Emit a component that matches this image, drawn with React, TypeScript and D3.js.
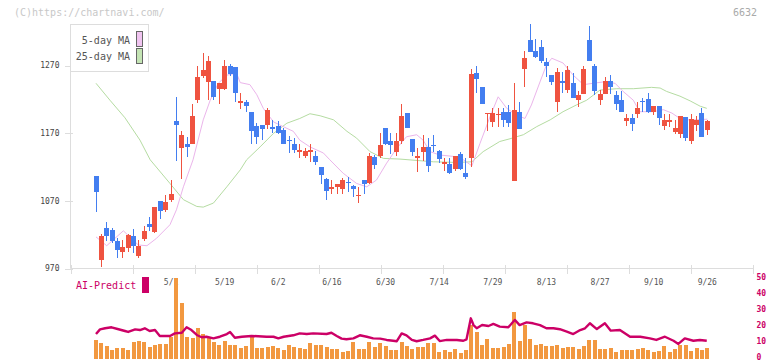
import React from 'react';
import * as d3 from 'd3';

// ---- price data ----
const opens = [1107,983,1030,1027,1011,994,1001,1018,989,1014,1036,1024,1070,1057,1072,1189,1149,1155,1155,1219,1255,1246,1247,1236,1236,1270,1268,1215,1216,1202,1181,1183,1182,1179,1181,1175,1160,1154,1143,1137,1143,1136,1120,1103,1088,1091,1088,1098,1092,1078,1101,1097,1135,1137,1178,1159,1143,1158,1200,1161,1133,1143,1150,1153,1144,1124,1125,1118,1139,1111,1134,1259,1239,1199,1187,1197,1202,1201,1100,1201,1265,1308,1291,1297,1276,1256,1217,1248,1234,1244,1219,1228,1308,1270,1219,1228,1247,1226,1219,1189,1193,1199,1218,1221,1201,1210,1181,1187,1172,1169,1194,1159,1182,1200,1175];
const highs = [1107,1021,1039,1030,1016,1013,1021,1029,1012,1033,1047,1061,1070,1079,1101,1224,1174,1164,1213,1270,1289,1285,1247,1245,1279,1273,1268,1229,1220,1202,1185,1183,1207,1190,1189,1178,1166,1163,1155,1148,1154,1144,1120,1104,1101,1095,1104,1105,1094,1091,1101,1141,1138,1170,1178,1171,1170,1213,1200,1161,1148,1168,1163,1167,1146,1133,1133,1137,1143,1134,1265,1270,1239,1200,1208,1207,1207,1212,1244,1216,1291,1331,1309,1308,1281,1256,1266,1261,1269,1259,1232,1269,1328,1272,1234,1254,1256,1232,1232,1198,1198,1216,1222,1229,1210,1210,1199,1199,1190,1196,1194,1199,1196,1208,1190];
const lows = [1054,973,1011,1008,986,986,995,993,986,1011,1026,1023,1043,1054,1069,1129,1103,1135,1155,1215,1252,1219,1219,1214,1234,1255,1216,1206,1202,1155,1155,1160,1177,1171,1169,1155,1141,1141,1133,1133,1127,1123,1095,1072,1080,1081,1080,1084,1076,1067,1081,1095,1117,1133,1153,1140,1136,1154,1178,1137,1113,1129,1113,1143,1126,1114,1110,1114,1116,1103,1120,1230,1213,1174,1180,1180,1180,1180,1100,1176,1239,1290,1282,1274,1254,1242,1201,1230,1230,1222,1209,1228,1277,1227,1212,1228,1228,1205,1201,1181,1174,1192,1202,1200,1197,1182,1175,1179,1169,1163,1158,1154,1174,1165,1168];
const closes = [1084,1018,1018,1011,997,1002,1020,1004,1004,1025,1032,1061,1056,1068,1081,1183,1168,1150,1196,1254,1264,1277,1224,1245,1270,1257,1229,1218,1211,1173,1164,1177,1205,1176,1171,1155,1158,1146,1145,1144,1146,1127,1109,1085,1091,1095,1101,1096,1088,1079,1095,1136,1123,1153,1154,1153,1158,1196,1178,1143,1137,1150,1122,1152,1132,1127,1112,1137,1118,1106,1258,1250,1213,1200,1200,1199,1190,1185,1205,1176,1282,1290,1283,1277,1269,1246,1261,1245,1264,1223,1227,1265,1277,1232,1228,1247,1239,1213,1201,1193,1184,1207,1216,1202,1210,1193,1190,1190,1178,1196,1163,1191,1190,1165,1188];
const volumes = [183,153,123,83,103,103,83,163,173,163,113,133,143,143,213,803,553,213,203,303,243,213,163,133,173,133,133,103,123,223,103,103,113,123,103,83,133,113,103,93,153,133,133,113,93,93,67,77,163,93,93,163,113,153,123,83,83,165,123,93,113,113,153,153,67,83,63,93,53,83,333,267,133,193,103,103,113,143,463,173,333,193,133,143,123,123,133,103,113,113,93,123,183,183,93,93,103,63,83,83,83,93,103,83,63,73,123,63,93,133,133,73,103,83,103];

// moving averages ([day index, price])
const ma5Idx = [0,2,5.1,7.9,9.5,11.3,13.8,15,16.3,18.1,20,21.3,22.8,24.4,26.2,26.9,28.7,30,31.2,33.1,34.9,36.8,38,39.9,42.4,43.6,46.1,48.6,50.5,52.3,54.2,56.1,57.9,59.8,61,62.3,64.1,66.6,68.5,70.1,71.6,73.5,75,76.6,78.4,80,81.2,82.8,84,85,87.1,89,90.9,92.7,94.6,96.8,98.3,100.2,101.4,103.9,105.8,107.4,108.9,110.2,112.1,114];
const ma5Val = [1017,1004,1026,1005,1004,1015,1035,1057,1091,1131,1190,1219,1244,1256,1259,1245,1242,1227,1207,1187,1180,1173,1160,1150,1141,1131,1111,1096,1091,1101,1126,1148,1165,1168,1160,1143,1138,1136,1131,1122,1155,1195,1224,1207,1197,1192,1212,1246,1271,1281,1274,1256,1242,1244,1246,1244,1232,1219,1202,1202,1205,1200,1192,1190,1190,1191];
const ma25Idx = [0,2.6,5.4,8.2,10.1,13.8,16.3,18.8,20,21.9,24.4,26.9,28.1,30.6,33.1,35.6,38,39.9,41.8,44.3,46.8,48.6,51.1,53.6,56.7,62.9,67.3,70.1,72.2,75.3,77.2,79.7,82.2,84.7,87.1,89.6,91.5,94,97.1,100.2,103.6,105.2,106.4,108.9,110.8,112.7,113.9];
const ma25Val = [1244,1219,1193,1160,1131,1096,1072,1062,1061,1067,1091,1116,1131,1150,1170,1185,1192,1199,1196,1190,1173,1163,1143,1133,1132,1128,1127,1128,1143,1158,1162,1168,1180,1190,1202,1212,1219,1234,1236,1236,1238,1237,1232,1225,1218,1210,1207];

// AI-Predict series ([day index, value on 0-50 scale])
const aiIdx = [0,0.75,1.7,2.9,4.2,5.4,6,7.3,8.2,9.1,10,11,11.9,13.8,14.7,16,16.9,17.8,18.8,19.7,20.6,21.9,23.1,24.4,25,25.9,27.2,29,31.8,33.1,34,35,36.8,38,39.3,40.5,43,43.9,44.9,45.8,46.7,48,49.2,50.5,51.7,53,54.2,55.4,56.1,57,57.9,58.9,59.8,61,62.3,63.2,64.1,65.4,67.3,68.5,69.1,69.9,70.4,71,72,73.2,74.1,75.3,76.9,77.8,78.1,79,80.3,81.5,82.8,84,85.3,86.5,87.8,89,90.3,91.2,92.1,93.4,94.9,96,97.7,99.6,101.5,103.3,104.5,106.1,107.7,108.6,109.8,111.4,112.6,113.9];
const aiVal = [14.8,17.7,18.4,19.0,17.8,16.7,16.1,17.7,17.3,18.4,16.7,17.3,13.6,13.6,15.2,15.6,19.0,17.3,14.2,12.8,13.1,12.1,13.1,14.8,16.1,12.5,13.1,13.6,13.1,13.1,12.1,13.1,14.0,15.2,14.8,15.2,14.8,15.6,13.6,11.9,11.5,12.1,14.0,13.1,12.1,11.9,11.1,10.6,10.3,15.2,14.0,11.1,10.3,11.1,12.1,13.8,10.4,11.1,11.1,10.6,11.5,24.6,20.4,18.4,20.4,19.8,21.1,19.4,19.0,22.5,23.6,20.4,22.1,21.5,20.4,18.4,18.4,17.8,16.3,14.8,17.3,18.4,21.5,17.9,21.5,16.9,17.3,13.1,13.1,12.1,11.1,13.1,10.6,8.6,12.1,10.6,11.1,10.6];

const xLabels = ['5/1','5/19','6/2','6/16','6/30','7/14','7/29','8/13','8/27','9/10','9/26'];
const xLabelIdx = [14,24,34,44,54,64,74,84,94,104,114];
const yTicks = [970,1070,1170,1270];
const aiTicks = [0,10,20,30,40,50];

const RED = '#ef5340';
const BLUE = '#437ef0';
const ORANGE = '#f29840';
const MAG = '#cc0066';
const FONT = 'DejaVu Sans Mono, monospace';

export default function App() {
  const x = d3.scaleLinear().domain([0, 114]).range([96, 707.3]);
  const y = d3.scaleLinear().domain([970, 1270]).range([268.7, 65.7]);
  const yAi = d3.scaleLinear().domain([0, 50]).range([357.7, 277.7]);
  const yVol = d3.scaleLinear().domain([0, 800]).range([358.5, 278.5]);

  const axisStart = x.invert(70.7);
  const axisEnd = x.invert(752.7);
  const xTicks = d3.range(12).map((k) => axisStart + (k * (axisEnd - axisStart)) / 11);

  const ma5Line = d3.line<number>().x((d) => x(ma5Idx[d])).y((d) => y(ma5Val[d]));
  const ma25Line = d3.line<number>().x((d) => x(ma25Idx[d])).y((d) => y(ma25Val[d]));
  const aiLine = d3.line<number>().x((d) => x(aiIdx[d])).y((d) => yAi(aiVal[d]));

  const axisColor = '#dddddd';

  return (
    <svg
      width={772}
      height={361}
      style={{ position: 'absolute', left: 0, top: 0, background: '#fff' }}
      fontFamily={FONT}
    >
      <rect x={0} y={0} width={772} height={361} fill="#fff" />
      {/* watermark */}
      <text x={14} y={15.5} fontSize={10} fill="#c8c8c8">(C)https://chartnavi.com/</text>
      <text x={757} y={15.5} fontSize={10} fill="#aaaaaa" textAnchor="end">6632</text>

      {/* axes */}
      <line x1={70.5} x2={70.5} y1={24} y2={268.5} stroke={axisColor} />
      <line x1={70.5} x2={753} y1={268.5} y2={268.5} stroke={axisColor} />
      {xTicks.map((t, k) => (
        <line key={'xt' + k} x1={Math.round(x(t)) + 0.5} x2={Math.round(x(t)) + 0.5} y1={265} y2={274} stroke={axisColor} />
      ))}
      {yTicks.map((t) => (
        <g key={'yt' + t}>
          <line x1={65} x2={73} y1={Math.round(y(t)) + 0.5} y2={Math.round(y(t)) + 0.5} stroke={axisColor} />
          <text x={59.5} y={y(t)} fontSize={8} fill="#444" textAnchor="end" dominantBaseline="middle">{t}</text>
        </g>
      ))}

      {/* x labels */}
      {xLabels.map((l, k) => (
        <text key={'xl' + k} x={x(xLabelIdx[k])} y={285} fontSize={8} fill="#555" textAnchor="middle">{l}</text>
      ))}

      {/* moving averages */}
      <path d={ma25Line(d3.range(ma25Idx.length)) || ''} fill="none" stroke="#b5dca2" strokeWidth={1} />
      <path d={ma5Line(d3.range(ma5Idx.length)) || ''} fill="none" stroke="#ebb5eb" strokeWidth={1} />

      {/* candles */}
      {opens.map((o, i) => {
        const c = closes[i];
        const up = c >= o;
        const col = up ? RED : BLUE;
        const xc = x(i);
        const x0 = Math.round(xc - 2.5);
        const top = Math.min(y(o), y(c));
        const bot = Math.max(y(o), y(c));
        return (
          <g key={'c' + i} shapeRendering="crispEdges">
            <rect x={x0 + 2} width={1} y={y(highs[i])} height={Math.max(1, y(lows[i]) - y(highs[i]))} fill={col} />
            <rect x={x0} width={5} y={top} height={Math.max(1.2, bot - top)} fill={col} />
          </g>
        );
      })}

      {/* legend */}
      <rect x={70.5} y={24.5} width={78} height={47} fill="#fff" stroke={axisColor} />
      <text x={130} y={44} fontSize={10} fill="#555" textAnchor="end">5-day MA</text>
      <text x={130} y={60} fontSize={10} fill="#555" textAnchor="end">25-day MA</text>
      <rect x={136.5} y={31.5} width={6} height={15} fill="#f0c4f0" stroke="#666" />
      <rect x={136.5} y={48.5} width={6} height={15} fill="#c4e4b4" stroke="#666" />

      {/* bottom panel */}
      <text x={76} y={289} fontSize={10} fill={MAG}>AI-Predict</text>
      <rect x={142} y={277} width={7} height={16} fill={MAG} />
      {volumes.map((v, i) => {
        const xc = x(i);
        return (
          <rect key={'v' + i} shapeRendering="crispEdges" x={Math.round(xc - 2)} width={4} y={yVol(v)} height={yVol(0) - yVol(v)} fill={ORANGE} />
        );
      })}
      <path d={aiLine(d3.range(aiIdx.length)) || ''} fill="none" stroke={MAG} strokeWidth={2.4} strokeLinejoin="round" />
      {aiTicks.map((t) => (
        <text key={'ai' + t} x={756.5} y={yAi(t)} fontSize={8} fill={MAG} fontWeight="bold" dominantBaseline="middle">{t}</text>
      ))}
    </svg>
  );
}
